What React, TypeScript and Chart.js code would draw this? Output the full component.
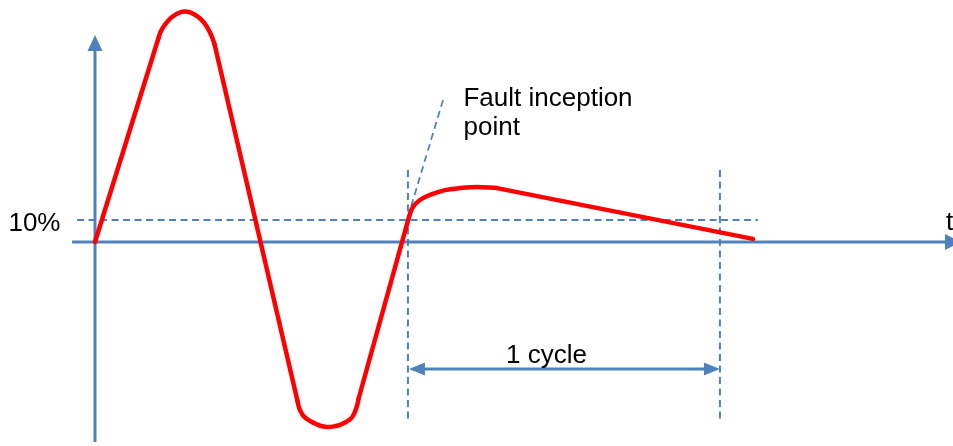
import { useEffect, useRef } from 'react';
import { Chart, registerables } from 'chart.js';

Chart.register(...registerables);

type P = { x: number; y: number };

// Units: x = time in ms (50 Hz, one cycle = 20 ms), y = value in %
const X_MIN = -6.09;
const X_MAX = 55;
const Y_MIN = -92.73;
const Y_MAX = 110;

// Pre-fault waveform (red)
const riseA: P[] = [
  { x: 0, y: 0 },
  { x: 4.071, y: 92.73 },
];
const peakArc: P[] = [
  { x: 4.071, y: 92.73 },
  { x: 4.199, y: 95.45 },
  { x: 4.423, y: 98.18 },
  { x: 4.679, y: 100.45 },
  { x: 4.936, y: 102.27 },
  { x: 5.288, y: 103.86 },
  { x: 5.673, y: 104.77 },
  { x: 6.026, y: 104.55 },
  { x: 6.378, y: 103.41 },
  { x: 6.699, y: 101.82 },
  { x: 6.955, y: 100.0 },
  { x: 7.179, y: 97.73 },
  { x: 7.34, y: 95.68 },
  { x: 7.5, y: 93.18 },
  { x: 7.66, y: 90.0 },
];
const fallC: P[] = [
  { x: 7.66, y: 90.0 },
  { x: 12.981, y: -72.27 },
];
const troughArc: P[] = [
  { x: 12.981, y: -72.27 },
  { x: 13.077, y: -75.23 },
  { x: 13.205, y: -77.27 },
  { x: 13.365, y: -79.09 },
  { x: 13.59, y: -80.45 },
  { x: 13.846, y: -81.59 },
  { x: 14.167, y: -82.73 },
  { x: 14.551, y: -83.73 },
  { x: 14.936, y: -84.09 },
  { x: 15.321, y: -83.82 },
  { x: 15.705, y: -83.09 },
  { x: 16.09, y: -81.82 },
  { x: 16.41, y: -80.23 },
  { x: 16.603, y: -78.18 },
  { x: 16.731, y: -75.91 },
  { x: 16.827, y: -73.64 },
  { x: 16.891, y: -71.36 },
];
const riseE: P[] = [
  { x: 16.891, y: -71.36 },
  { x: 20.13, y: 11.4 },
];
// Post-fault (decaying DC offset)
const faultArc: P[] = [
  { x: 20.13, y: 11.4 },
  { x: 20.38, y: 15.9 },
  { x: 20.83, y: 19.1 },
  { x: 21.47, y: 21.4 },
  { x: 22.44, y: 23.6 },
  { x: 23.4, y: 24.5 },
  { x: 24.49, y: 25.0 },
  { x: 25.77, y: 24.5 },
];
const decayG: P[] = [
  { x: 25.77, y: 24.5 },
  { x: 42.18, y: 1.4 },
];

// Reference lines
const FAULT_T = 20.06;
const CYCLE_END_T = 40.06;
const THRESHOLD = 10;
const thresholdLine: P[] = [
  { x: -1.15, y: THRESHOLD },
  { x: 42.5, y: THRESHOLD },
];
const faultMarker: P[] = [
  { x: FAULT_T, y: 32.7 },
  { x: FAULT_T, y: -80.5 },
];
const cycleEndMarker: P[] = [
  { x: CYCLE_END_T, y: 32.7 },
  { x: CYCLE_END_T, y: -80.5 },
];
const pointerLine: P[] = [
  { x: FAULT_T, y: 11.4 },
  { x: 22.31, y: 64.5 },
];

// Axes
const X_AXIS_START = -1.47;
const X_AXIS_TIP = 55.51;
const Y_AXIS_START = -90.9;
const Y_AXIS_TIP = 94.1;
const CYCLE_ARROW_Y = -57.7;

// Labels (anchor in data units)
const labels: { text: string; x: number; y: number }[] = [
  { text: '10%', x: -5.55, y: 5.0 },
  { text: 'Fault inception', x: 23.62, y: 61.8 },
  { text: 'point', x: 23.62, y: 48.6 },
  { text: '1 cycle', x: 26.35, y: -55.0 },
  { text: 't', x: 54.55, y: 5.45 },
];

const RED = '#FF0000';
const BLUE = '#4F81BD';

function drawHead(
  ctx: CanvasRenderingContext2D,
  tx: number,
  ty: number,
  dx: number,
  dy: number,
  len: number,
  half: number
) {
  const bx = tx - dx * len;
  const by = ty - dy * len;
  const nx = -dy;
  const ny = dx;
  ctx.beginPath();
  ctx.moveTo(tx, ty);
  ctx.lineTo(bx + nx * half, by + ny * half);
  ctx.lineTo(bx - nx * half, by - ny * half);
  ctx.closePath();
  ctx.fill();
}

const overlay = {
  id: 'overlay',
  afterDatasetsDraw(chart: any) {
    const ctx: CanvasRenderingContext2D = chart.ctx;
    const xs = chart.scales.x;
    const ys = chart.scales.y;
    const px = (v: number) => xs.getPixelForValue(v);
    const py = (v: number) => ys.getPixelForValue(v);
    ctx.save();
    ctx.fillStyle = BLUE;
    drawHead(ctx, px(0), py(Y_AXIS_TIP), 0, -1, 16, 7.5);
    drawHead(ctx, px(X_AXIS_TIP), py(0), 1, 0, 16, 8);
    drawHead(ctx, px(FAULT_T) + 1, py(CYCLE_ARROW_Y), -1, 0, 16, 6.5);
    drawHead(ctx, px(CYCLE_END_T), py(CYCLE_ARROW_Y), 1, 0, 16, 6.5);

    ctx.fillStyle = '#000000';
    ctx.font = '26px "Liberation Sans", Arial, sans-serif';
    ctx.textAlign = 'left';
    ctx.textBaseline = 'alphabetic';
    for (const l of labels) {
      ctx.fillText(l.text, px(l.x), py(l.y));
    }
    ctx.restore();
  },
};

export default function App() {
  const ref = useRef<HTMLCanvasElement | null>(null);

  useEffect(() => {
    if (!ref.current) return;
    const red = (data: P[], tension = 0) => ({
      data,
      showLine: true,
      borderColor: RED,
      borderWidth: 4.5,
      pointRadius: 0,
      tension,
      borderCapStyle: 'round' as const,
      borderJoinStyle: 'round' as const,
      fill: false,
    });
    const blue = (data: P[], width: number, dash: number[] = []) => ({
      data,
      showLine: true,
      borderColor: BLUE,
      borderWidth: width,
      borderDash: dash,
      pointRadius: 0,
      tension: 0,
      fill: false,
    });
    const chart = new Chart(ref.current, {
      type: 'scatter',
      data: {
        datasets: [
          red(riseA),
          red(peakArc, 0.4),
          red(fallC),
          red(troughArc, 0.4),
          red(riseE),
          red(faultArc, 0.4),
          red(decayG),
          blue(thresholdLine, 2, [7, 4.5]),
          blue(faultMarker, 2, [7, 4.5]),
          blue(cycleEndMarker, 2, [7, 4.5]),
          blue(pointerLine, 1.75, [7, 4.5]),
          blue(
            [
              { x: FAULT_T + 0.3, y: CYCLE_ARROW_Y },
              { x: CYCLE_END_T - 0.3, y: CYCLE_ARROW_Y },
            ],
            3
          ),
          blue(
            [
              { x: X_AXIS_START, y: 0 },
              { x: X_AXIS_TIP - 0.8, y: 0 },
            ],
            3
          ),
          blue(
            [
              { x: 0, y: Y_AXIS_START },
              { x: 0, y: Y_AXIS_TIP - 6 },
            ],
            3
          ),
        ] as any,
      },
      options: {
        animation: false,
        responsive: false,
        events: [],
        layout: { padding: 0, autoPadding: false } as any,
        plugins: {
          legend: { display: false },
          tooltip: { enabled: false },
        },
        scales: {
          x: { type: 'linear', min: X_MIN, max: X_MAX, display: false },
          y: { type: 'linear', min: Y_MIN, max: Y_MAX, display: false },
        },
      },
      plugins: [overlay],
    });
    return () => chart.destroy();
  }, []);

  return (
    <div style={{ position: 'absolute', left: 0, top: 0, width: 953, height: 446, background: '#fff' }}>
      <canvas ref={ref} width={953} height={446} />
    </div>
  );
}
